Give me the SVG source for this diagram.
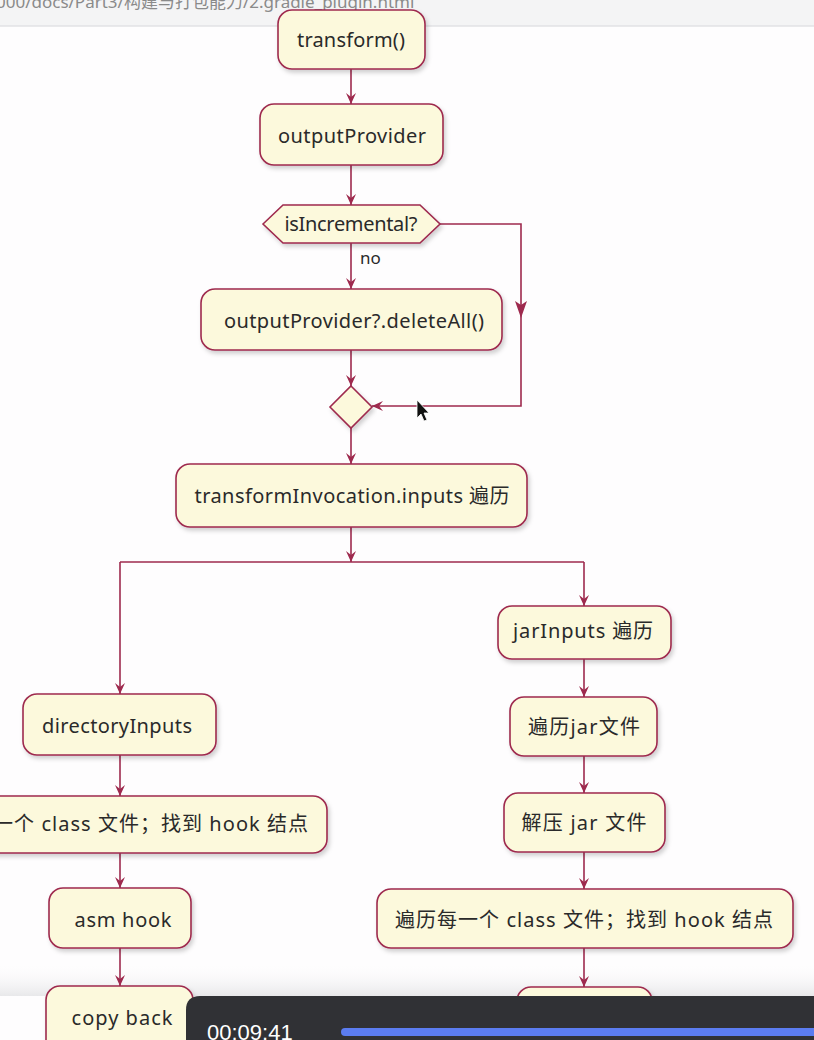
<svg xmlns="http://www.w3.org/2000/svg" width="814" height="1040" viewBox="0 0 814 1040">
<style>
.n{fill:#FCF9DC;stroke:#9E2A4E;stroke-width:1.6;filter:url(#sh)}
.t{font-family:"Noto Sans","Noto Sans CJK SC",sans-serif;font-size:20px;fill:#2a2a2a;text-anchor:middle}
.c{fill:none;stroke:#9E2A4E;stroke-width:1.6}
.ah{fill:#9E2A4E}
</style>
<defs>
<filter id="sh" x="-10%" y="-20%" width="120%" height="150%"><feDropShadow dx="2" dy="3" stdDeviation="2" flood-color="#000" flood-opacity="0.18"/></filter>
<marker id="arr" viewBox="0 0 12 12" refX="11" refY="6" markerWidth="12" markerHeight="12" markerUnits="userSpaceOnUse" orient="auto"><path d="M0,1 L11,6 L0,11 L4,6 Z" fill="#9E2A4E"/></marker>
<linearGradient id="fade" x1="0" y1="0" x2="0" y2="1"><stop offset="0" stop-color="#ffffff" stop-opacity="0"/><stop offset="1" stop-color="#e8e8ea"/></linearGradient>
</defs>
<rect width="814" height="1040" fill="#fefdfe"/>
<rect x="0" y="962" width="814" height="34" fill="url(#fade)"/>
<g id="browserbar">
<rect x="0" y="0" width="814" height="26" fill="#f4f4f5"/>
<line x1="0" y1="26" x2="814" y2="26" stroke="#e2e2e4" stroke-width="1.5"/>
<text x="-4" y="8" font-family="'Noto Sans','Noto Sans CJK SC',sans-serif" font-size="17" fill="#8a8a8a">000/docs/Part3/构建与打包能力/2.gradle_plugin.html</text>
</g>
<g id="connectors">
<line class="c" x1="351" y1="69" x2="351" y2="104" marker-end="url(#arr)"/>
<line class="c" x1="351" y1="165" x2="351" y2="205" marker-end="url(#arr)"/>
<line class="c" x1="351" y1="243" x2="351" y2="289" marker-end="url(#arr)"/>
<text x="360" y="264" style="font-family:'Noto Sans',sans-serif;font-size:17px;fill:#2a2a2a">no</text>
<polyline class="c" points="440,224 521,224 521,406 372,406" marker-end="url(#arr)"/>
<path class="ah" d="M515,301 L521,318 L527,301 L521,305 Z"/>
<line class="c" x1="351" y1="350" x2="351" y2="386" marker-end="url(#arr)"/>
<line class="c" x1="351" y1="428" x2="351" y2="464" marker-end="url(#arr)"/>
<line class="c" x1="351" y1="527" x2="351" y2="562" marker-end="url(#arr)"/>
<line class="c" x1="120" y1="562" x2="584" y2="562"/>
<line class="c" x1="120" y1="562" x2="120" y2="694" marker-end="url(#arr)"/>
<line class="c" x1="584" y1="562" x2="584" y2="606" marker-end="url(#arr)"/>
<line class="c" x1="120" y1="755" x2="120" y2="796" marker-end="url(#arr)"/>
<line class="c" x1="120" y1="853" x2="120" y2="888" marker-end="url(#arr)"/>
<line class="c" x1="120" y1="948" x2="120" y2="986" marker-end="url(#arr)"/>
<line class="c" x1="584" y1="659" x2="584" y2="697" marker-end="url(#arr)"/>
<line class="c" x1="584" y1="756" x2="584" y2="793" marker-end="url(#arr)"/>
<line class="c" x1="584" y1="852" x2="584" y2="889" marker-end="url(#arr)"/>
<line class="c" x1="584" y1="948" x2="584" y2="987" marker-end="url(#arr)"/>
</g>
<g id="n_transform"><rect class="n" x="278" y="10" width="147" height="59" rx="14"/><text class="t" x="351" y="47" textLength="108">transform()</text></g>
<g id="n_outputProvider"><rect class="n" x="260" y="104" width="183" height="61" rx="14"/><text class="t" x="352" y="143" textLength="148">outputProvider</text></g>
<g id="n_isIncremental"><polygon class="n" points="263,224 283,205 420,205 440,224 420,243 283,243"/><text class="t" x="351" y="231" textLength="133">isIncremental?</text></g>
<g id="n_deleteAll"><rect class="n" x="201" y="289" width="301" height="61" rx="14"/><text class="t" x="354" y="328" textLength="260">outputProvider?.deleteAll()</text></g>
<g id="n_merge"><polygon class="n" points="351,386 372,407 351,428 330,407"/></g>
<g id="n_inputs"><rect class="n" x="176" y="464" width="351" height="63" rx="14"/><text class="t" x="352" y="503" textLength="315">transformInvocation.inputs 遍历</text></g>
<g id="n_directoryInputs"><rect class="n" x="23" y="694" width="193" height="61" rx="14"/><text class="t" x="117" y="733" textLength="150">directoryInputs</text></g>
<g id="n_dirClass"><rect class="n" x="-88" y="796" width="415" height="57" rx="14"/><text class="t" x="119" y="831" textLength="378">遍历每一个 class 文件；找到 hook 结点</text></g>
<g id="n_asm"><rect class="n" x="49" y="888" width="142" height="60" rx="14"/><text class="t" x="123" y="927" textLength="97">asm hook</text></g>
<g id="n_copy"><rect class="n" x="46" y="986" width="147" height="70" rx="14"/><text class="t" x="122" y="1025" textLength="101">copy back</text></g>
<g id="n_jarInputs"><rect class="n" x="498" y="606" width="173" height="53" rx="14"/><text class="t" x="583" y="638" textLength="140">jarInputs 遍历</text></g>
<g id="n_jarFile"><rect class="n" x="510" y="697" width="147" height="59" rx="14"/><text class="t" x="584" y="734" textLength="112">遍历jar文件</text></g>
<g id="n_unzip"><rect class="n" x="504" y="793" width="161" height="59" rx="14"/><text class="t" x="584" y="830" textLength="125">解压 jar 文件</text></g>
<g id="n_jarClass"><rect class="n" x="377" y="889" width="416" height="59" rx="14"/><text class="t" x="584" y="927" textLength="378">遍历每一个 class 文件；找到 hook 结点</text></g>
<g id="n_next"><rect class="n" x="517" y="987" width="135" height="60" rx="14"/></g>
<g id="cursor"><path d="M417,400 L417,418 L421,414 L424,421 L427,420 L424,413 L429,413 Z" fill="#111" stroke="#fff" stroke-width="0.8"/></g>
<g id="videobar">
<path d="M200,996 L814,996 L814,1040 L186,1040 L186,1010 Q186,996 200,996 Z" fill="#303135"/>
<text x="207" y="1040" font-family="'Liberation Sans',Arial,sans-serif" font-size="22" fill="#ffffff">00:09:41</text>
<rect x="341" y="1028" width="480" height="8" rx="4" fill="#5b7cf0"/>
</g>
</svg>
